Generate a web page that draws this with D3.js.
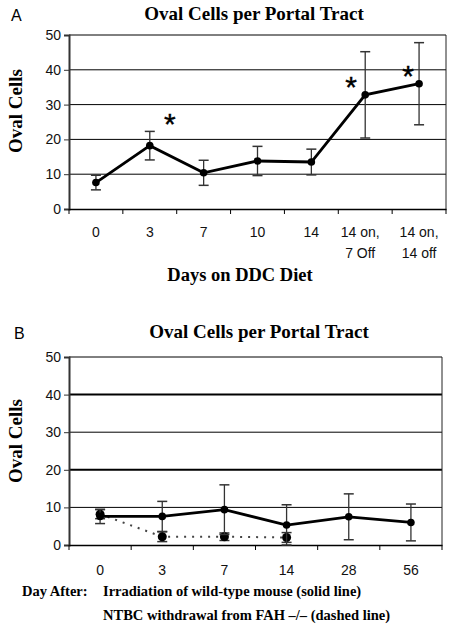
<!DOCTYPE html>
<html><head><meta charset="utf-8">
<script src="https://cdn.jsdelivr.net/npm/d3@7"></script>
<style>body{margin:0;background:#fff}svg{display:block}</style>
</head><body>
<script>
// Panel A data
const catsA = ["0","3","7","10","14","14 on,|7 Off","14 on,|14 off"];
const meanA = [7.6, 18.2, 10.4, 13.8, 13.5, 32.8, 36.0];
const errA  = [2.1, 4.1, 3.6, 4.2, 3.7, 12.4, 11.8];
const starA = [false, true, false, false, false, true, true];
// Panel B data
const catsB = ["0","3","7","14","28","56"];
const solidB = [7.6, 7.6, 9.4, 5.3, 7.5, 6.0];
const solidErrB = [1.9, 4.0, 6.6, 5.4, 6.1, 4.9];
const dashCatsB = ["0","3","7","14"];
const dashB = [8.2, 2.2, 2.2, 2.0];
const dashErrB = [1.2, 1.3, 1.0, 1.3];
const yTicks = [0,10,20,30,40,50];

const W = 450, H = 625;
const svg = d3.select("body").append("svg").attr("width", W).attr("height", H);
const serif = "'Liberation Serif','Times New Roman',serif";
const sans = "'Liberation Sans',Arial,sans-serif";

function panel(opts){
  const g = svg.append("g");
  const x = d3.scaleBand().domain(opts.cats).range([69, opts.right]);
  const y = d3.scaleLinear().domain([0,50]).range([opts.bottom, opts.top]);
  g.selectAll("line.grid").data(yTicks.slice(1)).join("line")
    .attr("x1", 69).attr("x2", opts.right)
    .attr("y1", d=>y(d)).attr("y2", d=>y(d))
    .attr("stroke", "#000")
    .attr("stroke-width", d => (opts.thick.includes(d) ? 2 : 1));
  g.append("line").attr("x1", opts.right).attr("x2", opts.right)
    .attr("y1", y(50)).attr("y2", y(0)).attr("stroke","#222").attr("stroke-width",1);
  const ya = g.append("g").attr("transform", `translate(69,0)`)
    .call(d3.axisLeft(y).tickValues(yTicks).tickSize(5).tickPadding(3));
  ya.select(".domain").attr("stroke","#333").attr("stroke-width",2);
  ya.selectAll(".tick line").attr("stroke","#333");
  ya.selectAll("text").attr("font-family", sans).attr("font-size", 14).attr("fill","#111");
  const xa = g.append("g").attr("transform", `translate(0,${y(0)})`)
    .call(d3.axisBottom(x).tickSize(0).tickFormat(""));
  xa.select(".domain").attr("stroke","#000").attr("stroke-width",1.5);
  const bounds = opts.cats.map(c=>x(c)).concat([opts.right]);
  g.selectAll("line.xt").data(bounds).join("line")
    .attr("x1", d=>d).attr("x2", d=>d)
    .attr("y1", y(0)).attr("y2", y(0)+5).attr("stroke","#000");
  opts.cats.forEach((c,ci)=>{
    const lines = c.split("|");
    const dx = lines.length>1 ? (ci===5 ? -5 : 0) : 0;
    const t = g.append("text").attr("text-anchor", "middle")
      .attr("font-family", sans).attr("font-size", 14).attr("fill","#111");
    lines.forEach((l,i)=>{
      t.append("tspan").attr("x", x(c)+x.bandwidth()/2 + dx)
        .attr("y", y(0)+opts.labelDy + i*21).text(l);
    });
  });
  g.append("text").attr("x", opts.titleX).attr("y", opts.titleY).attr("text-anchor","middle")
    .attr("font-family", serif).attr("font-weight","bold").attr("font-size",19).text("Oval Cells per Portal Tract");
  g.append("text").attr("x", opts.letterX).attr("y", opts.titleY+1)
    .attr("font-family", sans).attr("font-size",16).text(opts.letter);
  g.append("text").attr("transform", `translate(22,${opts.ylabY}) rotate(-90)`)
    .attr("text-anchor","middle").attr("font-family", serif).attr("font-weight","bold")
    .attr("font-size",19).text("Oval Cells");
  return {g, x, y};
}

function series(p, cats, vals, errs, lineStyle, r){
  const {g, x, y} = p;
  const cx = c => x(c) + x.bandwidth()/2;
  cats.forEach((c,i)=>{
    const lo = y(Math.max(0, vals[i]-errs[i])), hi = y(vals[i]+errs[i]);
    g.append("line").attr("x1",cx(c)).attr("x2",cx(c)).attr("y1",lo).attr("y2",hi)
      .attr("stroke","#333").attr("stroke-width",1.3);
    [lo,hi].forEach(yy=>g.append("line").attr("x1",cx(c)-5).attr("x2",cx(c)+5)
      .attr("y1",yy).attr("y2",yy).attr("stroke","#333").attr("stroke-width",1.5));
  });
  const line = d3.line().x((d,i)=>cx(cats[i])).y(d=>y(d));
  g.append("path").datum(vals).attr("d", line).attr("fill","none")
    .attr("stroke", lineStyle.color).attr("stroke-width", lineStyle.width)
    .attr("stroke-dasharray", lineStyle.dash || null);
  g.selectAll(null).data(vals).join("circle")
    .attr("cx",(d,i)=>cx(cats[i])).attr("cy",d=>y(d)).attr("r",r).attr("fill","#000");
}

// Panel A
const pA = panel({cats: catsA, right: 446, top: 35, bottom: 209, thick: [], labelDy: 28,
  titleX: 254, titleY: 20, letterX: 11, letter: "A", ylabY: 111});
series(pA, catsA, meanA, errA, {color:"#000", width:2.8}, 3.8);
const starDx = {1: 20, 5: -14, 6: -11};
const starDy = {1: -12, 5: 2, 6: 2};
catsA.forEach((c,i)=>{
  if(!starA[i]) return;
  pA.g.append("text").attr("x", pA.x(c)+pA.x.bandwidth()/2 + starDx[i])
    .attr("y", pA.y(meanA[i]) + starDy[i])
    .attr("text-anchor","middle").attr("font-family", sans).attr("font-size",30)
    .attr("stroke","#000").attr("stroke-width",0.4).text("*");
});
pA.g.append("text").attr("x", 240).attr("y", 281).attr("text-anchor","middle")
  .attr("font-family", serif).attr("font-weight","bold").attr("font-size",18.5).text("Days on DDC Diet");

// Panel B
const pB = panel({cats: catsB, right: 442, top: 357, bottom: 545, thick: [20,40], labelDy: 30,
  titleX: 259, titleY: 338, letterX: 14, letter: "B", ylabY: 441});
series(pB, dashCatsB, dashB, dashErrB, {color:"#444", width:2, dash:"2,6"}, 4.5);
series(pB, catsB, solidB, solidErrB, {color:"#000", width:2.8}, 3.8);
const foot = {"fs": 14.5};
pB.g.append("text").attr("x", 22).attr("y", 596).attr("font-family", serif).attr("font-weight","bold")
  .attr("font-size",foot.fs).text("Day After:");
pB.g.append("text").attr("x", 103).attr("y", 596).attr("font-family", serif).attr("font-weight","bold")
  .attr("font-size",foot.fs).text("Irradiation of wild-type mouse (solid line)");
pB.g.append("text").attr("x", 103).attr("y", 620).attr("font-family", serif).attr("font-weight","bold")
  .attr("font-size",foot.fs).text("NTBC withdrawal from FAH –/– (dashed line)");
</script>
</body></html>
